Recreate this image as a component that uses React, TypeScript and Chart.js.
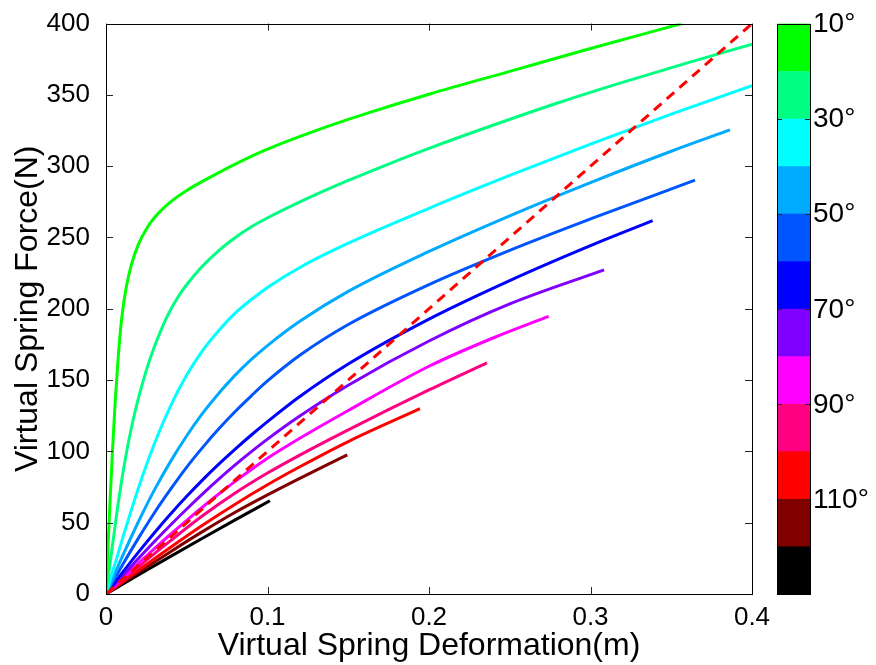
import { useEffect, useRef } from 'react';
import { Chart, registerables } from 'chart.js';

Chart.register(...registerables);

// ---- data ----
const angles = [10, 20, 30, 40, 50, 60, 70, 80, 90, 100, 110, 120];
const curveColors = ['#00ff00', '#00ff80', '#00ffff', '#00aaff', '#0055ff', '#0000ff', '#8000ff', '#ff00ff', '#ff0080', '#ff0000', '#800000', '#000000'];

const def10 = [0, 0.001, 0.0025, 0.004, 0.0056, 0.0075, 0.0097, 0.0125, 0.016, 0.02, 0.025, 0.03, 0.04, 0.05, 0.06, 0.08, 0.1, 0.13, 0.16, 0.2, 0.25, 0.3, 0.3565];
const frc10 = [0, 27, 65, 100, 133, 165, 193, 215, 232, 245, 256, 264, 275, 283, 289.5, 301.5, 312, 325, 336.5, 350.5, 366.5, 382.5, 400];

const def20 = [0, 0.004, 0.008, 0.012, 0.016, 0.02, 0.025, 0.03, 0.0376, 0.045, 0.0582, 0.07, 0.0788, 0.09, 0.0995, 0.1201, 0.15, 0.1738, 0.2, 0.2378, 0.28, 0.3203, 0.36, 0.4];
const frc20 = [0, 34, 67, 95, 118, 137, 157, 173.5, 194, 209, 228, 241, 249, 257.5, 263.5, 275, 290, 301, 312.5, 328, 344.5, 359, 372.5, 385.5];

const def30 = [0, 0.01, 0.02, 0.03, 0.04, 0.05, 0.06, 0.07, 0.08, 0.09, 0.1, 0.12, 0.15, 0.2, 0.25, 0.3, 0.35, 0.4];
const frc30 = [0, 38, 74, 105.5, 132, 153.5, 171, 185, 197, 206.5, 215, 229, 246, 270.5, 293.5, 315.5, 336.5, 356.5];

const def40 = [0, 0.01, 0.02, 0.03, 0.04, 0.05, 0.06, 0.07, 0.08, 0.09, 0.1, 0.12, 0.15, 0.2, 0.25, 0.3, 0.35, 0.3864];
const frc40 = [0, 26, 50.5, 73, 93, 111, 127, 141, 153.5, 164.5, 174.2, 191.2, 212.2, 240.2, 265.2, 288.5, 310.5, 325.5];

const def50 = [0, 0.01, 0.02, 0.03, 0.04, 0.05, 0.06, 0.07, 0.08, 0.09, 0.1, 0.12, 0.15, 0.2, 0.25, 0.3, 0.3647];
const frc50 = [0, 20, 39, 57, 73.5, 89, 103, 116, 128, 139, 149.4, 167.4, 189, 217, 241, 263, 290.2];

const def60 = [0, 0.01, 0.02, 0.03, 0.04, 0.05, 0.06, 0.07, 0.08, 0.09, 0.1, 0.12, 0.15, 0.2, 0.25, 0.3, 0.3385];
const frc60 = [0, 14.8, 29.2, 43, 56.1, 68.5, 80.2, 91.2, 101.6, 111.5, 120.9, 138.5, 161.3, 192.8, 219.8, 244.3, 261.8];

const def70 = [0, 0.01, 0.02, 0.03, 0.04, 0.05, 0.06, 0.07, 0.08, 0.09, 0.1, 0.12, 0.15, 0.2, 0.25, 0.3084];
const frc70 = [0, 12.5, 24.8, 36.8, 48.4, 59.6, 70.4, 80.7, 90.5, 99.8, 108.6, 124.8, 146.4, 177.4, 203.4, 227.3];

const def80 = [0, 0.01, 0.02, 0.03, 0.04, 0.05, 0.06, 0.07, 0.08, 0.09, 0.1, 0.12, 0.15, 0.2, 0.24, 0.2741];
const frc80 = [0, 10.8, 21.4, 31.8, 41.9, 51.7, 61.2, 70.3, 79, 87.3, 95.2, 109.2, 128.7, 159.7, 179.7, 194.7];

const def90 = [0, 0.02, 0.04, 0.06, 0.08, 0.1, 0.12, 0.15, 0.2, 0.2359];
const frc90 = [0, 19, 37.4, 55, 70.8, 84.8, 97.4, 115.1, 143.1, 162.1];

const def100 = [0, 0.02, 0.04, 0.06, 0.08, 0.1, 0.12, 0.15, 0.1944];
const frc100 = [0, 16.6, 32.8, 48.4, 63, 76.6, 89.2, 106.9, 130];

const def110 = [0, 0.02, 0.04, 0.06, 0.08, 0.1, 0.12, 0.1494];
const frc110 = [0, 15, 29.7, 43.9, 57.3, 69.5, 81.1, 97.6];

const def120 = [0, 0.02, 0.04, 0.06, 0.08, 0.1015];
const frc120 = [0, 13.3, 26.4, 39.3, 52, 65.4];

const deformations = [def10, def20, def30, def40, def50, def60, def70, def80, def90, def100, def110, def120];
const forces = [frc10, frc20, frc30, frc40, frc50, frc60, frc70, frc80, frc90, frc100, frc110, frc120];

const refDef = [0, 0.4];
const refForce = [0, 400];

const xTicks = [0, 0.1, 0.2, 0.3, 0.4];
const xTickLabels = ['0', '0.1', '0.2', '0.3', '0.4'];
const yTicks = [0, 50, 100, 150, 200, 250, 300, 350, 400];
const yTickLabels = ['0', '50', '100', '150', '200', '250', '300', '350', '400'];

// colorbar labels sit on segment boundaries 0, 2, 4, ... (from top)
const colorbarLabels = ['10°', '30°', '50°', '70°', '90°', '110°'];

const FONT = "'Liberation Sans', Arial, Helvetica, sans-serif";

const framePlugin = {
  id: 'frame',
  afterDatasetsDraw(chart: any) {
    const { ctx, chartArea, scales } = chart;
    const { left, right, top, bottom } = chartArea;
    const tl = 7;
    ctx.save();
    ctx.strokeStyle = '#262626';
    ctx.lineWidth = 1;
    ctx.beginPath();
    xTicks.forEach((v) => {
      const px = Math.round(scales.x.getPixelForValue(v)) + 0.5;
      ctx.moveTo(px, bottom);
      ctx.lineTo(px, bottom - tl);
      ctx.moveTo(px, top);
      ctx.lineTo(px, top + tl);
    });
    yTicks.forEach((v) => {
      const py = Math.round(scales.y.getPixelForValue(v)) + 0.5;
      ctx.moveTo(left, py);
      ctx.lineTo(left + tl, py);
      ctx.moveTo(right, py);
      ctx.lineTo(right - tl, py);
    });
    ctx.stroke();
    ctx.strokeStyle = '#000';
    ctx.strokeRect(Math.round(left) + 0.5, Math.round(top) + 0.5, Math.round(right - left), Math.round(bottom - top));
    ctx.restore();
  },
};

const colorbarPlugin = {
  id: 'colorbar',
  afterDraw(chart: any) {
    const { ctx, chartArea } = chart;
    const x0 = Math.round(chartArea.right) + 25;
    const w = 33;
    const top = chartArea.top;
    const bottom = chartArea.bottom;
    const n = curveColors.length;
    const h = (bottom - top) / n;
    ctx.save();
    curveColors.forEach((c, i) => {
      ctx.fillStyle = c;
      ctx.fillRect(x0, top + i * h, w, h + 0.6);
    });
    ctx.strokeStyle = '#262626';
    ctx.lineWidth = 1;
    ctx.beginPath();
    colorbarLabels.forEach((_, k) => {
      const py = Math.round(top + k * 2 * h) + 0.5;
      ctx.moveTo(x0, py);
      ctx.lineTo(x0 + 5, py);
      ctx.moveTo(x0 + w, py);
      ctx.lineTo(x0 + w - 5, py);
    });
    ctx.stroke();
    ctx.strokeStyle = '#000';
    ctx.strokeRect(x0 + 0.5, Math.round(top) + 0.5, w, Math.round(bottom - top));
    ctx.fillStyle = '#000';
    ctx.font = `28px ${FONT}`;
    ctx.textAlign = 'left';
    ctx.textBaseline = 'middle';
    colorbarLabels.forEach((lab, k) => {
      ctx.fillText(lab, x0 + w + 3, top + k * 2 * h + 1);
    });
    ctx.restore();
  },
};

export default function App() {
  const ref = useRef<HTMLCanvasElement>(null);

  useEffect(() => {
    if (!ref.current) return;
    const datasets: any[] = [
      {
        label: 'reference',
        data: refDef.map((x, i) => ({ x, y: refForce[i] })),
        borderColor: '#ff0000',
        borderWidth: 3,
        borderDash: [10, 7],
        pointRadius: 0,
        order: 0,
      },
      ...angles.map((a, i) => ({
        label: `${a}°`,
        data: deformations[i].map((x, j) => ({ x, y: forces[i][j] })),
        borderColor: curveColors[i],
        borderWidth: 3,
        pointRadius: 0,
        cubicInterpolationMode: 'monotone',
        order: 1 + i,
      })),
    ];

    const chart = new Chart(ref.current, {
      type: 'line',
      data: { datasets },
      options: {
        animation: false,
        responsive: false,
        devicePixelRatio: 1,
        layout: { padding: { top: 17, right: 124, left: 0, bottom: 0 } },
        plugins: { legend: { display: false }, tooltip: { enabled: false } },
        elements: { line: { borderJoinStyle: 'round' } },
        scales: {
          x: {
            type: 'linear',
            min: 0,
            max: 0.4,
            grid: { display: false },
            border: { display: false },
            afterBuildTicks: (axis: any) => {
              axis.ticks = xTicks.map((v) => ({ value: v }));
            },
            afterFit: (axis: any) => {
              axis.height = 71;
            },
            ticks: {
              callback: (_v: any, i: number) => xTickLabels[i],
              font: { family: FONT, size: 26 },
              color: '#000',
              padding: 0,
              maxRotation: 0,
              autoSkip: false,
            },
            title: {
              display: true,
              text: 'Virtual Spring Deformation(m)',
              font: { family: FONT, size: 32 },
              color: '#000',
              padding: { top: 0, bottom: 0 },
            },
          },
          y: {
            type: 'linear',
            min: 0,
            max: 400,
            grid: { display: false },
            border: { display: false },
            afterBuildTicks: (axis: any) => {
              axis.ticks = yTicks.map((v) => ({ value: v }));
            },
            afterFit: (axis: any) => {
              axis.width = 106;
            },
            ticks: {
              callback: (_v: any, i: number) => yTickLabels[i],
              font: { family: FONT, size: 26 },
              color: '#000',
              padding: 8,
              autoSkip: false,
            },
            title: {
              display: true,
              text: 'Virtual Spring Force(N)',
              font: { family: FONT, size: 32 },
              color: '#000',
              padding: { top: 9, bottom: 0 },
            },
          },
        },
      },
      plugins: [framePlugin, colorbarPlugin],
    } as any);
    return () => chart.destroy();
  }, []);

  return (
    <div style={{ position: 'fixed', left: 0, top: 0, width: 876, height: 665, background: '#fff' }}>
      <canvas ref={ref} width={876} height={665} />
    </div>
  );
}
